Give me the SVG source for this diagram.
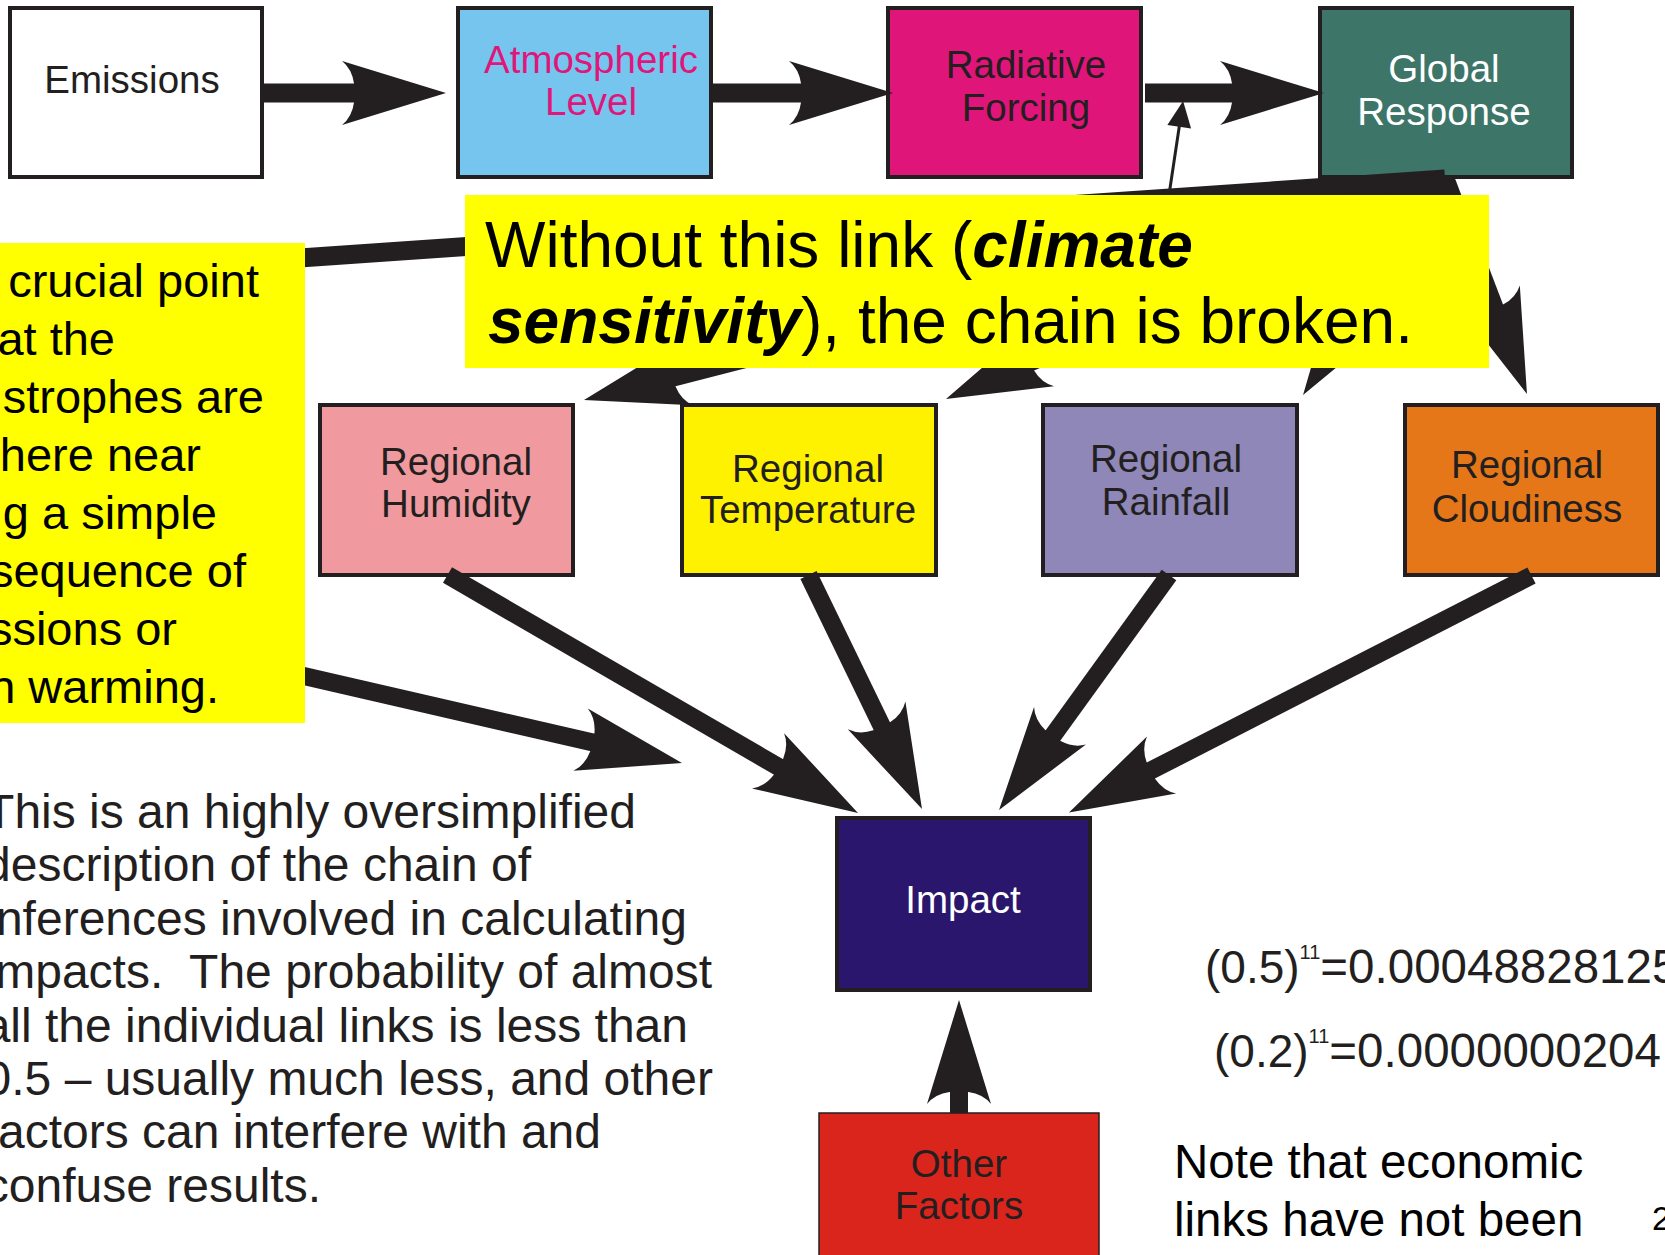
<svg xmlns="http://www.w3.org/2000/svg" width="1665" height="1255" viewBox="0 0 1665 1255">
<style>
text{font-family:"Liberation Sans",Arial,sans-serif;fill:#231f20}
.box{stroke:#231f20;stroke-width:4}
.lbl{font-size:38.5px;text-anchor:middle}
.w{fill:#ffffff}
.cl{fill:#ffff00}
.big{font-size:64px;fill:#000}
.bi{font-weight:bold;font-style:italic}
.side{font-size:47px;text-anchor:end;fill:#000}
.para{font-size:48px;text-anchor:end}
.eq{font-size:46px}
.num{font-size:47.5px}
.shaft{stroke:#231f20;stroke-width:18;stroke-linecap:butt;fill:none}
.top{stroke-width:19}
</style>
<defs>
<marker id="ah" markerUnits="userSpaceOnUse" markerWidth="120" markerHeight="80" viewBox="0 0 120 80" refX="50" refY="40" orient="auto" overflow="visible">
<path d="M110,40 L6,8 Q16,16 18,30.5 L18,49.5 Q16,64 6,72 Z" fill="#231f20"/>
</marker>
<marker id="thin" markerUnits="userSpaceOnUse" markerWidth="30" markerHeight="26" viewBox="0 0 30 26" refX="20" refY="13" orient="auto" overflow="visible">
<path d="M26,13 L0,1 L0,25 Z" fill="#231f20"/>
</marker>
</defs>
<rect width="1665" height="1255" fill="#ffffff"/>

<g id="emissions"><rect class="box" x="10" y="8" width="252" height="169" fill="#ffffff"/><text class="lbl" x="132" y="93">Emissions</text></g>
<g id="atmospheric-level"><rect class="box" x="458" y="8" width="253" height="169" fill="#75c5ef"/><text class="lbl" x="591" y="73" style="fill:#e0177b">Atmospheric<tspan x="591" y="115">Level</tspan></text></g>
<g id="radiative-forcing"><rect class="box" x="888" y="8" width="253" height="169" fill="#e0157a"/><text class="lbl" x="1026" y="78">Radiative<tspan x="1026" y="121">Forcing</tspan></text></g>
<g id="global-response"><rect class="box" x="1320" y="8" width="252" height="169" fill="#3d7569"/><text class="lbl w" x="1444" y="82">Global<tspan x="1444" y="125">Response</tspan></text></g>

<g id="regional-humidity"><rect class="box" x="320" y="405" width="253" height="170" fill="#f09a9f"/><text class="lbl" x="456" y="475">Regional<tspan x="456" y="517">Humidity</tspan></text></g>
<g id="regional-temperature"><rect class="box" x="682" y="405" width="254" height="170" fill="#fff200"/><text class="lbl" x="808" y="482">Regional<tspan x="808" y="523">Temperature</tspan></text></g>
<g id="regional-rainfall"><rect class="box" x="1043" y="405" width="254" height="170" fill="#8e87b7"/><text class="lbl" x="1166" y="472">Regional<tspan x="1166" y="515">Rainfall</tspan></text></g>
<g id="regional-cloudiness"><rect class="box" x="1405" y="405" width="253" height="170" fill="#e57719"/><text class="lbl" x="1527" y="478">Regional<tspan x="1527" y="522">Cloudiness</tspan></text></g>

<g id="impact"><rect class="box" x="837" y="818" width="253" height="172" fill="#2a176d"/><text class="lbl w" x="963" y="913">Impact</text></g>
<g id="other-factors"><rect x="819" y="1113" width="280" height="150" fill="#da251d" stroke="#231f20" stroke-width="1.5"/><text class="lbl" x="959" y="1177">Other<tspan x="959" y="1219">Factors</tspan></text></g>

<g id="connectors">
<line class="shaft top" x1="264" y1="93" x2="386" y2="93" marker-end="url(#ah)"/>
<line class="shaft top" x1="713" y1="93" x2="833" y2="93" marker-end="url(#ah)"/>
<line class="shaft top" x1="1145" y1="93" x2="1264" y2="93" marker-end="url(#ah)"/>
<line class="shaft top" x1="1445" y1="179" x2="285" y2="259"/>
<line class="shaft top" x1="1445" y1="179" x2="642.1" y2="385.1" marker-end="url(#ah)"/>
<line class="shaft top" x1="1445" y1="179" x2="1000.9" y2="374.8" marker-end="url(#ah)"/>
<line class="shaft top" x1="1445" y1="179" x2="1336" y2="344.9" marker-end="url(#ah)"/>
<line class="shaft top" x1="1445" y1="179" x2="1505.6" y2="337.9" marker-end="url(#ah)"/>
<line class="shaft" x1="447.5" y1="575" x2="806.1" y2="782.9" marker-end="url(#ah)"/>
<line class="shaft" x1="808.5" y1="575" x2="895.8" y2="755" marker-end="url(#ah)"/>
<line class="shaft" x1="1169" y1="575" x2="1034.2" y2="761.4" marker-end="url(#ah)"/>
<line class="shaft" x1="1531.5" y1="575.5" x2="1122.4" y2="785.1" marker-end="url(#ah)"/>
<line class="shaft" x1="280" y1="670.5" x2="623.5" y2="749.5" marker-end="url(#ah)"/>
<line class="shaft" x1="959" y1="1113" x2="959" y2="1060" marker-end="url(#ah)"/>
<line x1="1169" y1="195" x2="1182.2" y2="107" stroke="#231f20" stroke-width="3" marker-end="url(#thin)"/>
</g>

<g id="callout-left">
<rect class="cl" x="0" y="243" width="305" height="480"/>
<text class="side" x="259" y="297">crucial point</text>
<text class="side" x="115" y="355">at the</text>
<text class="side" x="264" y="413">strophes are</text>
<text class="side" x="201" y="471">here near</text>
<text class="side" x="217" y="529">g a simple</text>
<text class="side" x="246" y="587">sequence of</text>
<text class="side" x="177" y="645">ssions or</text>
<text class="side" x="219" y="703">n warming.</text>
</g>

<g id="callout-sensitivity">
<rect class="cl" x="465" y="195" width="1024" height="173"/>
<text class="big" x="485" y="267">Without this link (<tspan class="bi">climate</tspan></text>
<text class="big" x="488" y="343"><tspan class="bi">sensitivity</tspan>), the chain is broken.</text>
</g>

<g id="paragraph">
<text class="para" x="636" y="828">This is an highly oversimplified</text>
<text class="para" x="531" y="881.4">description of the chain of</text>
<text class="para" x="687" y="934.8">nferences involved in calculating</text>
<text class="para" x="712" y="988.2" xml:space="preserve">mpacts.  The probability of almost</text>
<text class="para" x="688" y="1041.6">all the individual links is less than</text>
<text class="para" x="713" y="1095">0.5 – usually much less, and other</text>
<text class="para" x="601" y="1148.4">actors can interfere with and</text>
<text class="para" x="321" y="1201.8">confuse results.</text>
</g>

<g id="equations">
<text class="eq" x="1205" y="983">(0.5)<tspan font-size="20" dy="-24">11</tspan><tspan class="num" dy="24">=0.00048828125</tspan></text>
<text class="eq" x="1214" y="1067">(0.2)<tspan font-size="20" dy="-24">11</tspan><tspan class="num" dy="24">=0.0000000204</tspan></text>
</g>

<g id="note">
<text x="1174" y="1178" style="font-size:47.5px;fill:#000">Note that economic</text>
<text x="1174" y="1236" style="font-size:47.5px;fill:#000">links have not been</text>
<text x="1652" y="1230" style="font-size:34px;fill:#000">2</text>
</g>
</svg>
